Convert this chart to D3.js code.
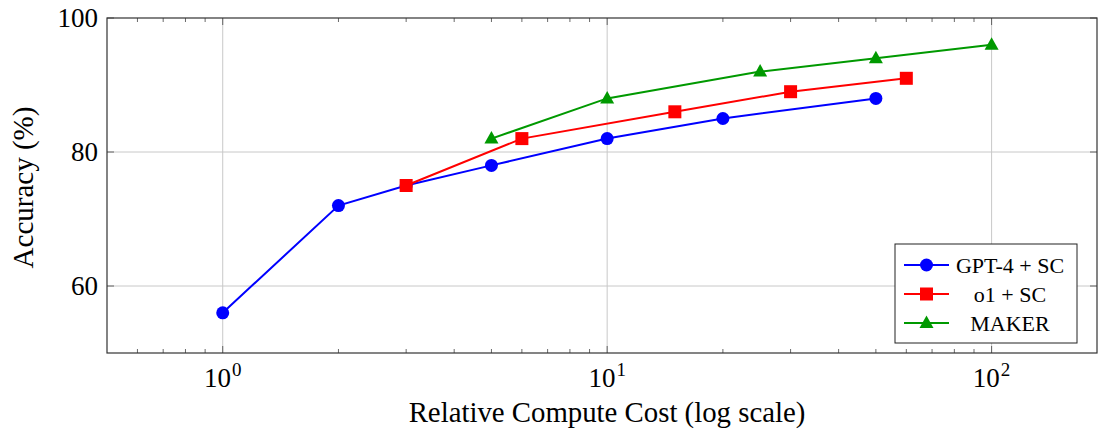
<!DOCTYPE html>
<html lang="en">
<head>
<meta charset="UTF-8">
<title>Accuracy vs compute</title>
<script src="https://d3js.org/d3.v7.min.js"></script>
<style>
  body { margin: 0; background: #fff; }
  svg text { font-family: "Liberation Serif", "DejaVu Serif", serif; fill: #000; }
</style>
</head>
<body>
<svg width="1099" height="430"></svg>
<script>
// data
const gptCost = [1, 2, 3, 5, 10, 20, 50];
const gptAcc  = [56, 72, 75, 78, 82, 85, 88];
const o1Cost  = [3, 6, 15, 30, 60];
const o1Acc   = [75, 82, 86, 89, 91];
const makerCost = [5, 10, 25, 50, 100];
const makerAcc  = [82, 88, 92, 94, 96];
const yTicks = [60, 80, 100];
const xTicks = [1, 10, 100];
const seriesNames = ["GPT-4 + SC", "o1 + SC", "MAKER"];

const svg = d3.select("svg");
const pL = 107, pR = 1097, pT = 18, pB = 353;

const x = d3.scaleLog().domain([0.5, 188]).range([pL, pR]);
const y = d3.scaleLinear().domain([50, 100]).range([pB, pT]);

// grid
svg.append("g").selectAll("line").data(xTicks).join("line")
  .attr("x1", d => x(d)).attr("x2", d => x(d)).attr("y1", pT).attr("y2", pB)
  .attr("stroke", "#c8c8c8").attr("stroke-width", 1);
svg.append("g").selectAll("line").data(yTicks.filter(d => d < 100)).join("line")
  .attr("x1", pL).attr("x2", pR).attr("y1", d => y(d)).attr("y2", d => y(d))
  .attr("stroke", "#c8c8c8").attr("stroke-width", 1);

// minor ticks along x (top + bottom, inward)
const minor = [];
for (let e = -1; e <= 2; e++) for (let k = 2; k <= 9; k++) {
  const v = k * Math.pow(10, e);
  if (v > 0.5 && v < 188) minor.push(v);
}
const tk = svg.append("g").attr("stroke", "#444").attr("stroke-width", 0.8);
minor.forEach(v => {
  tk.append("line").attr("x1", x(v)).attr("x2", x(v)).attr("y1", pB).attr("y2", pB - 4);
  tk.append("line").attr("x1", x(v)).attr("x2", x(v)).attr("y1", pT).attr("y2", pT + 4);
});
xTicks.forEach(v => {
  tk.append("line").attr("x1", x(v)).attr("x2", x(v)).attr("y1", pB).attr("y2", pB - 7);
  tk.append("line").attr("x1", x(v)).attr("x2", x(v)).attr("y1", pT).attr("y2", pT + 7);
});
yTicks.forEach(v => {
  tk.append("line").attr("x1", pL).attr("x2", pL + 7).attr("y1", y(v)).attr("y2", y(v));
  tk.append("line").attr("x1", pR).attr("x2", pR - 7).attr("y1", y(v)).attr("y2", y(v));
});

// frame
svg.append("rect").attr("x", pL).attr("y", pT)
  .attr("width", pR - pL).attr("height", pB - pT)
  .attr("fill", "none").attr("stroke", "#333").attr("stroke-width", 1.2);

// tick labels
svg.append("g").selectAll("text").data(yTicks).join("text")
  .attr("x", pL - 9).attr("y", d => y(d)).attr("dy", "0.35em")
  .attr("text-anchor", "end").attr("font-size", 27).text(d => d);

const xl = svg.append("g").selectAll("text").data(xTicks).join("text")
  .attr("x", d => x(d)).attr("y", pB + 34)
  .attr("text-anchor", "middle").attr("font-size", 27);
xl.append("tspan").text("10");
xl.append("tspan").attr("font-size", 19).attr("dy", -11).attr("dx", 1)
  .text(d => Math.round(Math.log10(d)));

// axis titles
svg.append("text").attr("x", (pL + pR) / 2 + 5).attr("y", 422)
  .attr("text-anchor", "middle").attr("font-size", 28.8)
  .text("Relative Compute Cost (log scale)");
svg.append("text")
  .attr("transform", `translate(33, ${(pT + pB) / 2 + 2}) rotate(-90)`)
  .attr("text-anchor", "middle").attr("font-size", 29)
  .text("Accuracy (%)");

// series
const series = [
  { name: seriesNames[0], color: "#0000ff", shape: "circle", cost: gptCost, acc: gptAcc },
  { name: seriesNames[1], color: "#ff0000", shape: "square", cost: o1Cost, acc: o1Acc },
  { name: seriesNames[2], color: "#009900", shape: "triangle", cost: makerCost, acc: makerAcc }
];

function marker(g, shape, color) {
  if (shape === "circle") g.append("circle").attr("r", 6.5).attr("fill", color);
  else if (shape === "square") g.append("rect").attr("x", -6.5).attr("y", -6.5)
    .attr("width", 13).attr("height", 13).attr("fill", color);
  else g.append("path").attr("d", "M0,-7.5L7,5L-7,5Z").attr("fill", color);
}

const line = d3.line().x(d => x(d[0])).y(d => y(d[1]));
series.forEach(s => {
  const pts = s.cost.map((c, i) => [c, s.acc[i]]);
  svg.append("path").datum(pts).attr("d", line)
    .attr("fill", "none").attr("stroke", s.color).attr("stroke-width", 2);
  pts.forEach(p => {
    const g = svg.append("g").attr("transform", `translate(${x(p[0])},${y(p[1])})`);
    marker(g, s.shape, s.color);
  });
});

// legend
const lg = svg.append("g").attr("transform", "translate(895,244)");
lg.append("rect").attr("width", 182).attr("height", 99)
  .attr("fill", "#fff").attr("stroke", "#222").attr("stroke-width", 1);
series.forEach((s, i) => {
  const yy = 21 + i * 29;
  lg.append("line").attr("x1", 9).attr("x2", 54).attr("y1", yy).attr("y2", yy)
    .attr("stroke", s.color).attr("stroke-width", 2);
  const g = lg.append("g").attr("transform", `translate(31.5,${yy})`);
  marker(g, s.shape, s.color);
  lg.append("text").attr("x", 115).attr("y", yy).attr("dy", "0.35em")
    .attr("text-anchor", "middle").attr("font-size", 22).text(s.name);
});
</script>
</body>
</html>
